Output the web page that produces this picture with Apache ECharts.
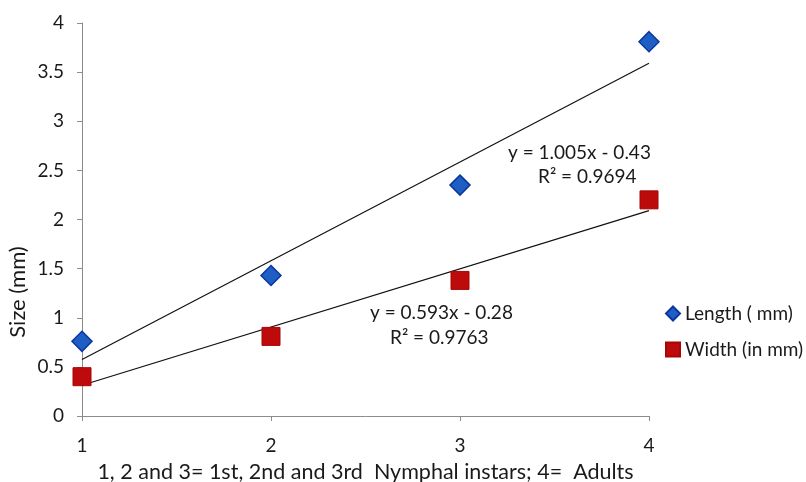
<!DOCTYPE html>
<html>
<head>
<meta charset="utf-8">
<script src="https://cdn.jsdelivr.net/npm/echarts@6/dist/echarts.min.js"></script>
<style>
  html, body { margin: 0; padding: 0; background: #fff; }
  #chart { width: 806px; height: 482px; }
</style>
</head>
<body>
<div id="chart"></div>
<script>
// stages on x axis
var stages = [1, 2, 3, 4];
// measured sizes (mm)
var lengthVals = [0.76, 1.43, 2.35, 3.81];
var widthVals = [0.40, 0.81, 1.38, 2.20];
// linear trendline ends, read at x=1 and x=4
var trendX = [1, 4];
var lengthTrend = [0.575, 3.59];
var widthTrend = [0.313, 2.09];
var yTicks = [0, 0.5, 1, 1.5, 2, 2.5, 3, 3.5, 4];

var font = 'Lato';
var pairs = function (xs, ys) { return xs.map(function (x, i) { return [x, ys[i]]; }); };

var chart = echarts.init(document.getElementById('chart'));
var option = {
  animation: false,
  textStyle: { fontFamily: font },
  grid: { left: 82, right: 157, top: 23, bottom: 66, containLabel: false, outerBoundsMode: 'none' },
  legend: {
    orient: 'vertical',
    left: 660,
    top: 299,
    itemGap: 17,
    itemWidth: 14,
    itemHeight: 14,
    textStyle: { fontSize: 19, color: '#1a1a1a', fontFamily: font },
    data: [
      { name: 'Length ( mm)', icon: 'diamond' },
      { name: 'Width (in mm)', icon: 'rect' }
    ]
  },
  xAxis: {
    type: 'value',
    min: 1, max: 4, interval: 1,
    name: '1, 2 and 3= 1st, 2nd and 3rd  Nymphal instars; 4=  Adults',
    nameLocation: 'middle',
    nameGap: 45,
    nameTextStyle: { fontSize: 21.5, color: '#1a1a1a', fontFamily: font },
    axisLine: { onZero: false, lineStyle: { color: '#8c8c8c', width: 1 } },
    axisTick: { show: true, length: 5, lineStyle: { color: '#8c8c8c' } },
    axisLabel: { fontSize: 19, color: '#1a1a1a', margin: 20 },
    splitLine: { show: false }
  },
  yAxis: {
    type: 'value',
    min: yTicks[0], max: yTicks[yTicks.length - 1], interval: 0.5,
    axisLine: { show: true, lineStyle: { color: '#8c8c8c', width: 1 } },
    axisTick: { show: true, length: 5, lineStyle: { color: '#8c8c8c' } },
    axisLabel: { fontSize: 19, color: '#1a1a1a', margin: 18 },
    splitLine: { show: false }
  },
  series: [
    {
      name: 'Length trend', type: 'line', data: pairs(trendX, lengthTrend),
      symbol: 'none', lineStyle: { color: '#111', width: 1.2 }, z: 1, silent: true
    },
    {
      name: 'Width trend', type: 'line', data: pairs(trendX, widthTrend),
      symbol: 'none', lineStyle: { color: '#111', width: 1.2 }, z: 1, silent: true
    },
    {
      name: 'Length ( mm)', type: 'scatter', data: pairs(stages, lengthVals),
      symbol: 'diamond', symbolSize: 20,
      itemStyle: { color: '#1f5fc4', borderColor: '#0b36a0', borderWidth: 1.5, opacity: 1 }, z: 3
    },
    {
      name: 'Width (in mm)', type: 'scatter', data: pairs(stages, widthVals),
      symbol: 'rect', symbolSize: 18,
      itemStyle: { color: '#bd0a0a', borderColor: '#a80606', borderWidth: 1, opacity: 1 }, z: 3
    }
  ],
  graphic: [
    { type: 'text', x: 18, y: 292, rotation: Math.PI / 2,
      style: { text: 'Size (mm)', fontSize: 22, fill: '#1a1a1a', fontFamily: font, align: 'center', verticalAlign: 'middle' } },
    { type: 'text', x: 508, y: 153, style: { text: 'y = 1.005x - 0.43', fontSize: 19, fill: '#1a1a1a', fontFamily: font, verticalAlign: 'middle' } },
    { type: 'text', x: 538, y: 177, style: { text: 'R² = 0.9694', fontSize: 19, fill: '#1a1a1a', fontFamily: font, verticalAlign: 'middle' } },
    { type: 'text', x: 370, y: 313, style: { text: 'y = 0.593x - 0.28', fontSize: 19, fill: '#1a1a1a', fontFamily: font, verticalAlign: 'middle' } },
    { type: 'text', x: 390, y: 338, style: { text: 'R² = 0.9763', fontSize: 19, fill: '#1a1a1a', fontFamily: font, verticalAlign: 'middle' } }
  ]
};
chart.setOption(option);
</script>
</body>
</html>
